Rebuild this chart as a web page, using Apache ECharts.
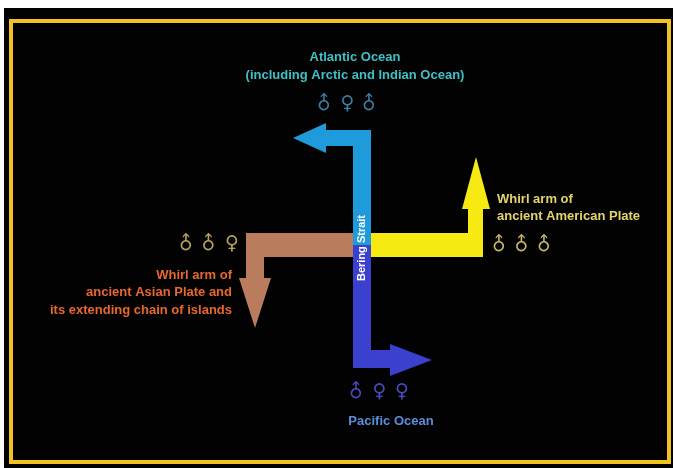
<!DOCTYPE html>
<html>
<head>
<meta charset="utf-8">
<script src="https://cdn.jsdelivr.net/npm/echarts@6/dist/echarts.min.js"></script>
<style>
  html, body { margin: 0; padding: 0; background: #fff; }
  #main { width: 673px; height: 468px; }
</style>
</head>
<body>
<div id="main"></div>
<script>
// arrows: shaft pieces [x0, y0, x1, y1] and head triangle, in diagram units
const arrowNames = ['Atlantic', 'Pacific', 'Asian', 'American'];
const arrowShafts = [
  [[353, 130, 371, 246], [326, 130, 371, 146]],
  [[353, 245, 371, 368], [353, 350, 390, 368]],
  [[246, 233, 353, 257], [246, 233, 264, 279]],
  [[371, 233, 483, 257], [468, 209, 483, 257]]
];
const arrowHeads = [
  [[326, 123], [326, 153], [293, 138]],
  [[390, 344], [390, 376], [432, 360]],
  [[239, 278], [271, 278], [255, 328]],
  [[462, 209], [490, 209], [476, 157]]
];

// texts
const atlanticLines = ['Atlantic Ocean', '(including Arctic and Indian Ocean)'];
const americanLines = ['Whirl arm of', 'ancient American Plate'];
const asianLines = ['Whirl arm of', 'ancient Asian Plate and', 'its extending chain of islands'];
const pacificLines = ['Pacific Ocean'];
const straitLabel = 'Bering Strait';

// gender symbols per arm
const atlanticSymbols = ['♂', '♀', '♂'];
const asianSymbols = ['♂', '♂', '♀'];
const americanSymbols = ['♂', '♂', '♂'];
const pacificSymbols = ['♂', '♀', '♀'];

const arrowColors = ['#1f9bdc', '#3b40cf', '#b97c5c', '#f6ea12'];
const FONT = 'bold 13px "Liberation Sans", Arial, sans-serif';

var myChart = echarts.init(document.getElementById('main'));

function textLines(lines, x, y, step, align, color) {
  return lines.map(function (t, i) {
    return {
      type: 'text', x: x, y: y + i * step, z: 10,
      style: { text: t, fill: color, font: FONT, textAlign: align, textVerticalAlign: 'middle' }
    };
  });
}

function symbolRow(syms, x, y, step, color) {
  return syms.map(function (s, i) {
    return {
      type: 'text', x: x + i * step, y: y, z: 10,
      // male sign turned so the arrow points straight up
      rotation: s === '♂' ? Math.PI / 4 : 0,
      style: { text: s, fill: color, font: '19px "DejaVu Sans", sans-serif', textAlign: 'center', textVerticalAlign: 'middle' }
    };
  });
}

var graphics = [
  { type: 'rect', z: -10, shape: { x: 4, y: 8, width: 669, height: 460 }, style: { fill: '#020202' } },
  { type: 'rect', z: -9, shape: { x: 11, y: 21, width: 658, height: 441 }, style: { fill: 'none', stroke: '#f2c21e', lineWidth: 4 } },
  {
    type: 'text', x: 362, y: 248, z: 10, rotation: Math.PI / 2,
    style: { text: straitLabel, fill: '#fff', font: 'bold 11px "Liberation Sans", Arial, sans-serif', textAlign: 'center', textVerticalAlign: 'middle' }
  }
]
  .concat(textLines(atlanticLines, 355, 57, 18, 'center', '#3ec0c6'))
  .concat(textLines(americanLines, 497, 199, 17, 'left', '#e4d46c'))
  .concat(textLines(asianLines, 232, 275, 17.5, 'right', '#e8672f'))
  .concat(textLines(pacificLines, 391, 421, 18, 'center', '#5a8edc'))
  .concat(symbolRow(atlanticSymbols, 325, 104, 22.5, '#3d7ea6'))
  .concat(symbolRow(asianSymbols, 187, 244, 22.5, '#b9a35c'))
  .concat(symbolRow(americanSymbols, 500, 245, 22.5, '#c6b666'))
  .concat(symbolRow(pacificSymbols, 357, 392, 22.5, '#4a4ac2'));

myChart.setOption({
  backgroundColor: '#fff',
  animation: false,
  grid: { left: 0, right: 0, top: 0, bottom: 0 },
  xAxis: { type: 'value', min: 0, max: 673, show: false },
  yAxis: { type: 'value', min: 0, max: 468, inverse: true, show: false },
  graphic: graphics,
  series: [
    {
      type: 'custom',
      coordinateSystem: 'cartesian2d',
      data: arrowNames.map(function (n, i) { return [i]; }),
      renderItem: function (params, api) {
        var i = api.value(0);
        var children = arrowShafts[i].map(function (r) {
          var p0 = api.coord([r[0], r[1]]);
          var p1 = api.coord([r[2], r[3]]);
          return {
            type: 'rect',
            shape: { x: p0[0], y: p0[1], width: p1[0] - p0[0], height: p1[1] - p0[1] },
            style: { fill: arrowColors[i] }
          };
        });
        children.push({
          type: 'polygon',
          shape: { points: arrowHeads[i].map(function (p) { return api.coord(p); }) },
          style: { fill: arrowColors[i] }
        });
        return { type: 'group', children: children };
      }
    }
  ]
});
</script>
</body>
</html>
